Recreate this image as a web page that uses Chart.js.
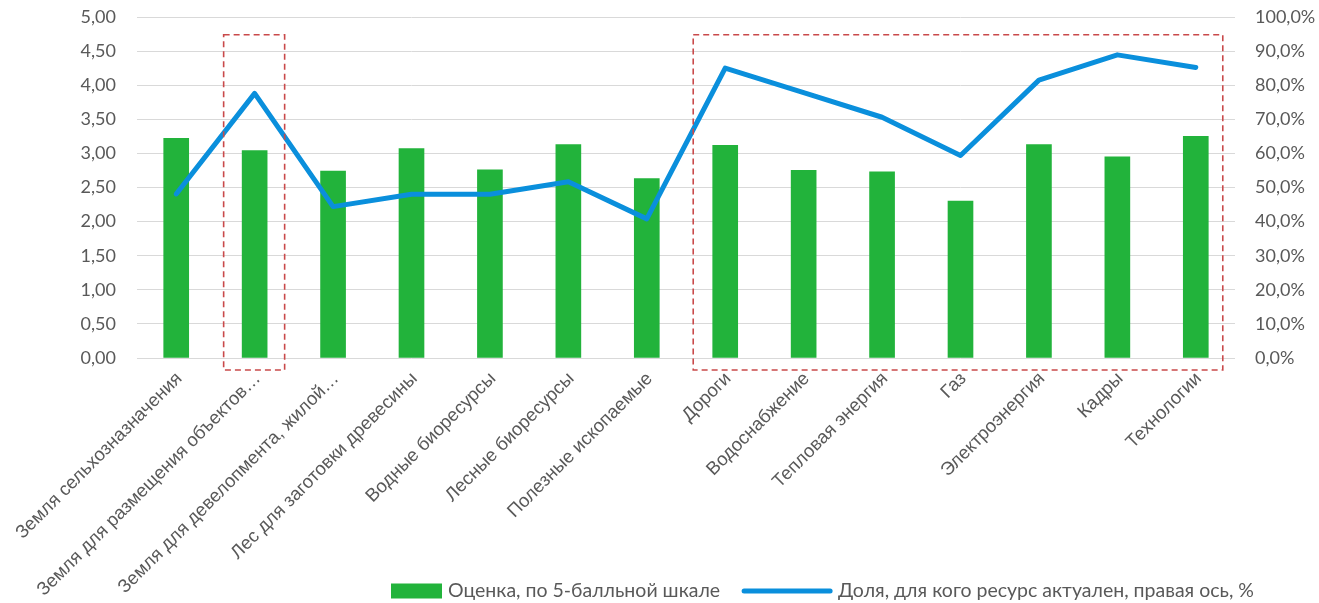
<!DOCTYPE html>
<html><head><meta charset="utf-8">
<script src="https://cdn.jsdelivr.net/npm/chart.js@4/dist/chart.umd.min.js"></script>
<style>html,body{margin:0;padding:0;background:#fff;}#wrap{width:1319px;height:603px;}</style>
</head><body><div id="wrap"><canvas id="c" width="1319" height="603"></canvas></div>
<script>
const categories = ["Земля сельхозназначения","Земля для размещения объектов…","Земля для девелопмента, жилой…","Лес для заготовки древесины","Водные биоресурсы","Лесные биоресурсы","Полезные ископаемые","Дороги","Водоснабжение","Тепловая энергия","Газ","Электроэнергия","Кадры","Технологии"];
const scoreLabel = "Оценка, по 5-балльной шкале";
const shareLabel = "Доля, для кого ресурс актуален, правая ось, %";
const scores = [3.22,3.04,2.74,3.07,2.76,3.13,2.63,3.12,2.75,2.73,2.30,3.13,2.95,3.25];
const shares = [48.1,77.6,44.4,48.0,48.0,51.7,40.8,85.0,77.8,70.6,59.4,81.5,88.9,85.2];
const leftTicks = [0,0.5,1,1.5,2,2.5,3,3.5,4,4.5,5];
const rightTicks = [0,10,20,30,40,50,60,70,80,90,100];

const GREEN = '#22b33b', BLUE = '#0a8fdc', TXT = '#595959', GRID = '#d9d9d9';
const numFont = 'Lato, "Open Sans", sans-serif';

const boxes = {
  id: 'boxes',
  afterDatasetsDraw(chart) {
    const {ctx, scales:{x, y}, chartArea} = chart;
    ctx.save();
    ctx.strokeStyle = '#c9494a';
    ctx.lineWidth = 1.6;
    ctx.setLineDash([6,4]);
    const top = y.getPixelForValue(4.74);
    const bot = chartArea.bottom + 12;
    const r = (l, rgt) => { ctx.strokeRect(l, top, rgt - l, bot - top); };
    r(x.getPixelForValue(1) - 31, x.getPixelForValue(1) + 30);
    r(x.getPixelForValue(7) - 32, x.getPixelForValue(13) + 27);
    ctx.restore();
  }
};

const legend = {
  id: 'customLegend',
  afterDraw(chart) {
    const ctx = chart.ctx;
    ctx.save();
    ctx.font = '19.5px ' + numFont;
    ctx.textBaseline = 'middle';
    const yc = 591;
    let xs = 391;
    ctx.fillStyle = GREEN;
    ctx.fillRect(xs, yc - 7.5, 51, 15);
    ctx.fillStyle = TXT;
    ctx.fillText(scoreLabel, xs + 57, yc);
    xs = xs + 57 + ctx.measureText(scoreLabel).width + 22;
    ctx.strokeStyle = BLUE; ctx.lineWidth = 5; ctx.lineCap = 'round';
    ctx.beginPath(); ctx.moveTo(xs + 2, yc); ctx.lineTo(xs + 88, yc); ctx.stroke();
    ctx.fillText(shareLabel, xs + 96, yc);
    ctx.restore();
  }
};

const noPadV = s => { s.paddingTop = 0; s.paddingBottom = 0; };

new Chart(document.getElementById('c'), {
  type: 'bar',
  data: {
    labels: categories,
    datasets: [
      { type: 'line', label: shareLabel, data: shares, yAxisID: 'y1', borderColor: BLUE, backgroundColor: BLUE,
        borderWidth: 5, pointRadius: 0, tension: 0, borderJoinStyle: 'round', borderCapStyle: 'round', order: 0 },
      { type: 'bar', label: scoreLabel, data: scores, yAxisID: 'y', backgroundColor: GREEN, barThickness: 25, order: 1 }
    ]
  },
  options: {
    responsive: false, animation: false, devicePixelRatio: 1,
    layout: { padding: { top: 17, left: 0, right: 0, bottom: 0 } },
    plugins: { legend: { display: false }, tooltip: { enabled: false } },
    scales: {
      x: {
        grid: { display: false, drawTicks: false },
        border: { display: false },
        ticks: { color: TXT, font: { family: '"Liberation Sans", Arial, sans-serif', size: 18.5 }, maxRotation: 45, minRotation: 45, autoSkip: false, padding: 10, labelOffset: 3 },
        afterFit(s) { s.height = 245; s.paddingLeft = 0; s.paddingRight = 0; }
      },
      y: {
        position: 'left', min: 0, max: 5,
        afterBuildTicks(s) { s.ticks = leftTicks.map(v => ({ value: v })); },
        grid: { color: GRID, lineWidth: 1, drawTicks: false },
        border: { display: false },
        ticks: { color: TXT, font: { family: numFont, size: 18 }, padding: 21, callback: v => v.toFixed(2).replace('.', ',') },
        afterFit(s) { s.width = 137; noPadV(s); }
      },
      y1: {
        position: 'right', min: 0, max: 100,
        afterBuildTicks(s) { s.ticks = rightTicks.map(v => ({ value: v })); },
        grid: { display: false, drawTicks: false },
        border: { display: false },
        ticks: { color: TXT, font: { family: numFont, size: 18 }, padding: 20, callback: v => v.toFixed(1).replace('.', ',') + '%' },
        afterFit(s) { s.width = 84; noPadV(s); }
      }
    }
  },
  plugins: [boxes, legend]
});
</script></body></html>
